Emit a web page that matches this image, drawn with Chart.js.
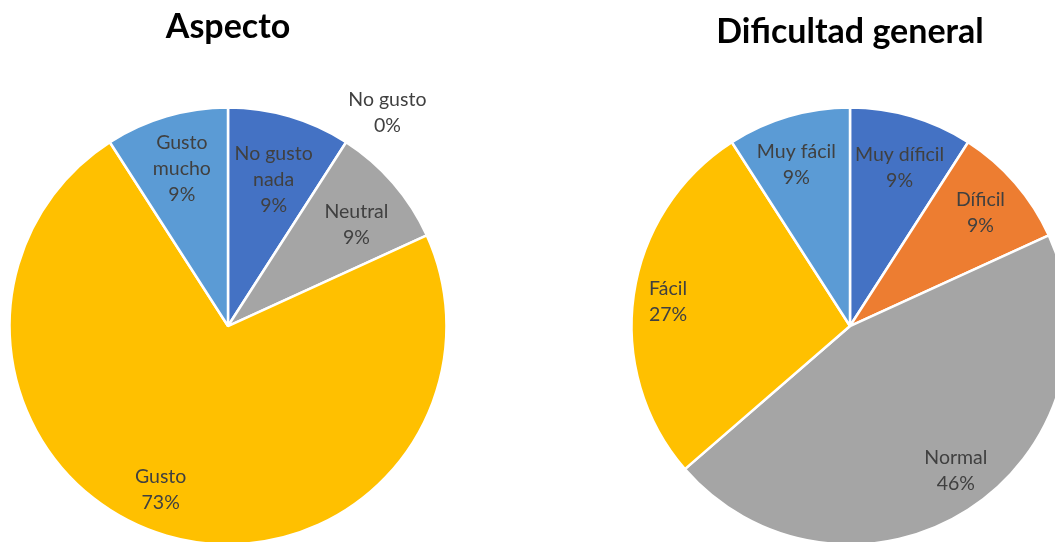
<!DOCTYPE html>
<html>
<head>
<meta charset="utf-8">
<script src="https://cdn.jsdelivr.net/npm/chart.js@4"></script>
<style>
  html, body { margin: 0; padding: 0; background: #fff; overflow: hidden; width: 1055px; height: 542px; }
  .caja { position: absolute; top: 0; width: 456px; height: 560px; }
  #cajaAspecto { left: 0; }
  #cajaDificultad { left: 622px; }
</style>
</head>
<body>
<div class="caja" id="cajaAspecto"><canvas id="aspecto"></canvas></div>
<div class="caja" id="cajaDificultad"><canvas id="dificultad"></canvas></div>
<script>
// Datos: Aspecto
const aspectoCategorias = ['No gusto nada', 'No gusto', 'Neutral', 'Gusto', 'Gusto mucho'];
const aspectoValores = [1, 0, 1, 8, 1];
const aspectoPorcentajes = ['9%', '0%', '9%', '73%', '9%'];

// Datos: Dificultad general
const dificultadCategorias = ['Muy díficil', 'Díficil', 'Normal', 'Fácil', 'Muy fácil'];
const dificultadValores = [1, 1, 5, 3, 1];
const dificultadPorcentajes = ['9%', '9%', '46%', '27%', '9%'];

const FUENTE = 'Lato, "Open Sans", sans-serif';

// Etiquetas de datos (nombre + porcentaje) dibujadas sobre cada porcion
const etiquetasPlugin = {
  id: 'etiquetas',
  afterDatasetsDraw(chart, args, opts) {
    const ctx = chart.ctx;
    const arcs = chart.getDatasetMeta(0).data;
    ctx.save();
    ctx.font = `19.5px ${FUENTE}`;
    ctx.fillStyle = '#404040';
    ctx.textAlign = 'center';
    ctx.textBaseline = 'middle';
    arcs.forEach((arc, i) => {
      const mid = (arc.startAngle + arc.endAngle) / 2 + (opts.giro[i] || 0) * Math.PI / 180;
      const r = arc.outerRadius * opts.radios[i];
      const x = arc.x + Math.cos(mid) * r;
      const y = arc.y + Math.sin(mid) * r;
      const lineas = opts.lineas[i].concat([opts.porcentajes[i]]);
      const alto = 26;
      const y0 = y - (lineas.length - 1) * alto / 2;
      lineas.forEach((t, k) => ctx.fillText(t, x, y0 + k * alto));
    });
    ctx.restore();
  }
};

function crearTorta(canvas, titulo, categorias, valores, colores, etiquetas) {
  return new Chart(canvas, {
    type: 'pie',
    data: {
      labels: categorias,
      datasets: [{
        data: valores,
        backgroundColor: colores,
        borderColor: '#ffffff',
        borderWidth: 2.5
      }]
    },
    options: {
      responsive: true,
      maintainAspectRatio: false,
      animation: false,
      layout: { padding: { left: 8.25, right: 8.25, bottom: 14.25 } },
      plugins: {
        legend: { display: false },
        tooltip: { enabled: false },
        title: {
          display: true,
          text: titulo.texto,
          color: '#000000',
          font: { family: FUENTE, size: 34, weight: 'bold' },
          padding: { top: titulo.arriba, bottom: titulo.abajo }
        },
        etiquetas: etiquetas
      }
    },
    plugins: [etiquetasPlugin]
  });
}

crearTorta(
  document.getElementById('aspecto'),
  { texto: 'Aspecto', arriba: 6.5, abajo: 59 },
  aspectoCategorias, aspectoValores,
  ['#4472C4', '#ED7D31', '#A5A5A5', '#FFC000', '#5B9BD5'],
  {
    lineas: [['No gusto', 'nada'], ['No gusto'], ['Neutral'], ['Gusto'], ['Gusto', 'mucho']],
    porcentajes: aspectoPorcentajes,
    radios: [0.70, 1.22, 0.75, 0.81, 0.75],
    giro: [1, 4, 2.5, 6, 0]
  }
);

crearTorta(
  document.getElementById('dificultad'),
  { texto: 'Dificultad general', arriba: 11.5, abajo: 54 },
  dificultadCategorias, dificultadValores,
  ['#4472C4', '#ED7D31', '#A5A5A5', '#FFC000', '#5B9BD5'],
  {
    lineas: [['Muy díficil'], ['Díficil'], ['Normal'], ['Fácil'], ['Muy fácil']],
    porcentajes: dificultadPorcentajes,
    radios: [0.76, 0.79, 0.82, 0.84, 0.78],
    giro: [1, 0, -3.5, -0.7, -2]
  }
);
</script>
</body>
</html>
